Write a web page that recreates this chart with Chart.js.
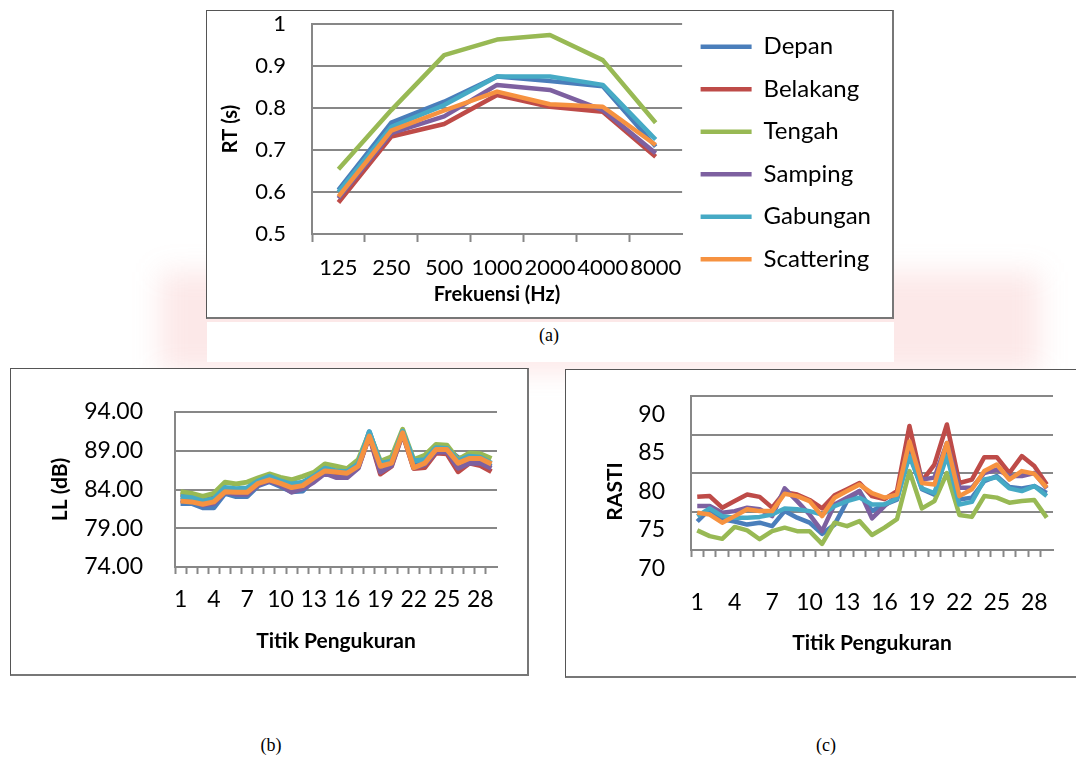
<!DOCTYPE html>
<html>
<head>
<meta charset="utf-8">
<script src="https://cdn.jsdelivr.net/npm/chart.js@4"></script>
<style>
html, body { margin: 0; padding: 0; background: #fff; width: 1076px; height: 758px; overflow: hidden; position: relative; }
.blush { position: absolute; background: rgba(236, 110, 110, 0.16); filter: blur(14px); }
.frame { position: absolute; background: #fff; box-sizing: border-box;
  border-top: 1px solid #555; border-left: 1px solid #555; border-right: 2px solid #777; border-bottom: 2px solid #777; }
.frame canvas { position: absolute; left: 0; top: 0; }
.strip { position: absolute; background: #fff; }
.cap { position: absolute; font-family: 'Liberation Serif', 'Times New Roman', serif; font-size: 18px; color: #000; transform: translate(-50%, -50%); }
</style>
</head>
<body>
<div class="blush" style="left:160px; top:272px; width:880px; height:100px;"></div>
<div class="strip" style="left:207px; top:322px; width:687px; height:40px;"></div>
<div class="frame" style="left:206px; top:10px; width:688px; height:309px;"><canvas id="rtChart" width="685" height="306"></canvas></div>
<div class="frame" style="left:10px; top:368px; width:519px; height:308px;"><canvas id="llChart" width="516" height="305"></canvas></div>
<div class="frame" style="left:565px; top:369px; width:530px; height:309px;"><canvas id="rastiChart" width="510" height="306"></canvas></div>
<div class="cap" style="left:549px; top:335px;">(a)</div>
<div class="cap" style="left:271px; top:745px;">(b)</div>
<div class="cap" style="left:826px; top:745px;">(c)</div>
<script>
// series shared by all three charts
const seriesNames = ['Depan', 'Belakang', 'Tengah', 'Samping', 'Gabungan', 'Scattering'];
const seriesColors = ['#4a7ebb', '#be4b48', '#98b954', '#7d60a0', '#46aac5', '#f69240'];

// (a) reverberation time per octave band
const freqLabels = ['125', '250', '500', '1000', '2000', '4000', '8000'];
const rtDepan = [0.605, 0.765, 0.815, 0.875, 0.864, 0.852, 0.708];
const rtBelakang = [0.575, 0.732, 0.762, 0.831, 0.803, 0.791, 0.684];
const rtTengah = [0.654, 0.795, 0.926, 0.963, 0.974, 0.914, 0.765];
const rtSamping = [0.585, 0.740, 0.780, 0.855, 0.843, 0.795, 0.692];
const rtGabungan = [0.600, 0.755, 0.807, 0.875, 0.875, 0.855, 0.725];
const rtScattering = [0.589, 0.746, 0.794, 0.839, 0.809, 0.803, 0.712];

// measurement points for (b) and (c)
const titik = [1, 2, 3, 4, 5, 6, 7, 8, 9, 10, 11, 12, 13, 14, 15, 16, 17, 18, 19, 20, 21, 22, 23, 24, 25, 26, 27, 28, 29];

// (b) loudness level
const llDepan = [82.2, 82.2, 81.65, 81.65, 83.5, 83.1, 83.1, 84.5, 85.0, 84.4, 83.7, 83.8, 85.25, 86.5, 85.9, 85.8, 87.0, 91.45, 87.2, 87.4, 91.5, 87.0, 87.65, 89.4, 89.3, 88.1, 87.9, 87.65, 87.0];
const llBelakang = [83.4, 83.2, 82.65, 82.95, 83.95, 83.75, 83.75, 84.95, 85.4, 84.95, 84.25, 84.4, 85.4, 86.3, 85.9, 85.8, 86.85, 90.9, 86.0, 87.0, 91.2, 86.7, 86.85, 88.7, 88.6, 86.3, 87.4, 87.1, 86.3];
const llTengah = [83.7, 83.5, 83.1, 83.5, 84.95, 84.7, 84.95, 85.5, 86.0, 85.55, 85.25, 85.7, 86.2, 87.3, 87.0, 86.7, 87.85, 91.3, 87.65, 88.2, 91.75, 87.85, 88.4, 89.8, 89.7, 87.85, 88.7, 88.6, 88.0];
const llSamping = [82.65, 82.5, 82.0, 82.2, 83.65, 83.4, 83.4, 84.6, 85.1, 84.6, 83.65, 84.1, 84.95, 86.1, 85.55, 85.55, 86.75, 91.0, 86.25, 87.1, 91.3, 86.8, 87.2, 88.85, 88.85, 86.75, 87.4, 87.4, 86.75];
const llGabungan = [83.1, 82.95, 82.5, 82.8, 84.25, 84.1, 84.2, 85.1, 85.7, 85.1, 84.7, 84.95, 85.7, 86.75, 86.4, 86.3, 87.3, 91.45, 87.4, 87.65, 91.5, 87.7, 87.85, 89.4, 89.3, 87.7, 88.3, 88.15, 87.4];
const llScattering = [82.5, 82.4, 82.1, 82.4, 83.7, 83.65, 83.65, 84.8, 85.25, 84.8, 84.25, 84.5, 85.5, 86.4, 86.25, 86.1, 87.0, 90.9, 87.0, 87.4, 91.3, 86.8, 87.4, 89.15, 89.15, 87.4, 88.0, 88.0, 87.3];

// (c) RASTI
const rastiDepan = [76.1, 77.7, 76.4, 76.1, 75.7, 75.95, 75.5, 77.45, 76.6, 75.95, 74.5, 75.7, 78.75, 80.05, 77.45, 78.3, 78.95, 85.0, 80.3, 79.6, 85.2, 78.95, 79.2, 81.35, 82.0, 80.6, 80.4, 80.7, 79.8];
const rastiBelakang = [79.3, 79.4, 77.9, 78.75, 79.6, 79.3, 77.9, 79.9, 79.6, 78.9, 77.8, 79.5, 80.3, 81.1, 79.4, 79.0, 80.05, 88.5, 81.35, 83.5, 88.7, 81.1, 81.55, 84.45, 84.45, 82.4, 84.6, 83.3, 80.9];
const rastiTengah = [74.95, 74.2, 73.85, 75.4, 74.95, 73.8, 74.85, 75.3, 74.85, 74.85, 73.2, 75.95, 75.5, 76.15, 74.35, 75.3, 76.4, 82.65, 77.8, 78.75, 82.4, 76.95, 76.7, 79.4, 79.2, 78.55, 78.75, 78.9, 76.6];
const rastiSamping = [78.1, 78.1, 77.25, 77.45, 77.9, 77.7, 76.8, 80.4, 78.75, 77.0, 74.85, 78.3, 79.2, 80.05, 76.5, 78.1, 79.4, 86.3, 81.55, 81.8, 86.3, 80.5, 80.5, 82.4, 82.85, 82.0, 82.0, 82.4, 80.4];
const rastiGabungan = [76.8, 77.8, 76.8, 76.6, 76.6, 76.7, 77.0, 77.8, 77.7, 77.45, 77.0, 78.1, 78.75, 79.2, 78.3, 78.3, 79.1, 84.6, 80.4, 79.8, 84.6, 78.3, 78.65, 81.55, 81.85, 80.4, 80.05, 80.7, 79.4];
const rastiScattering = [77.25, 77.0, 75.95, 76.8, 77.7, 77.45, 77.45, 79.7, 79.4, 78.75, 76.8, 79.2, 80.05, 80.9, 79.8, 79.2, 79.6, 86.5, 81.1, 80.9, 86.3, 79.4, 80.3, 82.65, 83.5, 81.55, 82.65, 82.3, 80.5];
// the RASTI axis labels sit below their gridlines in the original
const rastiTickLabels = ['70', '75', '80', '85', '90'];

Chart.defaults.font.family = 'Lato, sans-serif';
Chart.defaults.color = '#000';
const GRID = '#878787';

/**
 * Build line datasets; later series are drawn on top, like the original
 */
function lineSets(list, width) {
    return list.map((vals, i) => ({
        label: seriesNames[i],
        data: vals,
        borderColor: seriesColors[i],
        backgroundColor: seriesColors[i],
        borderWidth: width,
        pointRadius: 0,
        pointHoverRadius: 0,
        tension: 0,
        borderJoinStyle: 'round',
        order: list.length - i
    }));
}

function categoryAxis(o) {
    const every = o.every || 1;
    return {
        type: 'category',
        offset: true,
        grid: {
            offset: true,
            drawOnChartArea: false,
            tickLength: o.tickLength,
            tickWidth: 2,
            // no tick mark at the far right end
            tickColor: (c) => c.type === 'tick' ? GRID : 'rgba(0,0,0,0)'
        },
        border: { color: GRID, width: 2 },
        ticks: {
            autoSkip: false, maxRotation: 0, minRotation: 0,
            padding: o.pad,
            font: { size: o.fontSize },
            callback: function(value, index) {
                return index % every === 0 ? this.getLabelForValue(value) : '';
            }
        },
        title: {
            display: true, text: o.title,
            font: { size: o.titleSize, weight: 'bold' },
            padding: { top: 0, bottom: o.titlePad }
        },
        afterFit: (s) => { s.height = o.height; s.paddingLeft = 0; s.paddingRight = 0; }
    };
}

function valueAxis(o) {
    const ticks = {
        stepSize: o.step,
        padding: o.pad,
        labelOffset: o.labelOffset || 0,
        font: { size: o.fontSize }
    };
    if (o.cb) ticks.callback = o.cb;
    return {
        min: o.min, max: o.max,
        grid: { color: GRID, lineWidth: 2, drawTicks: false },
        border: { color: GRID, width: 2 },
        ticks: ticks,
        title: {
            display: !!o.title, text: o.title,
            font: { size: o.titleSize, weight: 'bold' },
            padding: { top: o.titlePad, bottom: 0 }
        },
        // fixed width and fixed room above the plot
        afterFit: (s) => { s.width = o.width; s.paddingTop = o.roomTop || 0; s.paddingBottom = 0; }
    };
}

// (a) RT
new Chart(document.getElementById('rtChart'), {
    type: 'line',
    data: {
        labels: freqLabels,
        datasets: lineSets([rtDepan, rtBelakang, rtTengah, rtSamping, rtGabungan, rtScattering], 4.5)
    },
    options: {
        responsive: false,
        animation: false,
        events: [],
        layout: { padding: { top: 0, right: 11, bottom: 22, left: 0 } },
        plugins: {
            tooltip: { enabled: false },
            legend: {
                position: 'right',
                align: 'center',
                maxWidth: 300,
                labels: {
                    usePointStyle: true,
                    pointStyle: 'line',
                    pointStyleWidth: 51,
                    padding: 18.5,
                    font: { size: 24 },
                    color: '#000',
                    sort: (a, b) => a.datasetIndex - b.datasetIndex
                }
            }
        },
        scales: {
            x: categoryAxis({ tickLength: 8, pad: 13, fontSize: 22, title: 'Frekuensi (Hz)', titleSize: 20, titlePad: -12, height: 61 }),
            y: valueAxis({ min: 0.5, max: 1, step: 0.1, pad: 26, fontSize: 22, cb: (v) => String(Math.round(v * 10) / 10),
                title: 'RT (s)', titleSize: 20, titlePad: 11.7, width: 105, roomTop: 13 })
        }
    }
});

// (b) LL
new Chart(document.getElementById('llChart'), {
    type: 'line',
    data: {
        labels: titik,
        datasets: lineSets([llDepan, llBelakang, llTengah, llSamping, llGabungan, llScattering], 5)
    },
    options: {
        responsive: false,
        animation: false,
        events: [],
        layout: { padding: { top: 43, right: 30, bottom: 0, left: 0 } },
        plugins: { legend: { display: false }, tooltip: { enabled: false } },
        scales: {
            x: categoryAxis({ tickLength: 7, pad: 12, fontSize: 23, every: 3, title: 'Titik Pengukuran', titleSize: 21, titlePad: 20.4, height: 107 }),
            y: valueAxis({ min: 74, max: 94, step: 5, pad: 32, fontSize: 23, cb: (v) => v.toFixed(2), title: 'LL (dB)', titleSize: 21, titlePad: 36.4, width: 164 })
        }
    }
});

// RASTI axis title follows the (shifted) tick labels, centred on the middle label
const rastiTitle = {
    id: 'rastiTitle',
    afterDraw(chart) {
        const ctx = chart.ctx;
        const y = chart.scales.y.getPixelForValue(Number(rastiTickLabels[2]));
        ctx.save();
        ctx.translate(49, y);
        ctx.rotate(-Math.PI / 2);
        ctx.font = 'bold 21px Lato, sans-serif';
        ctx.fillStyle = '#000';
        ctx.textAlign = 'center';
        ctx.textBaseline = 'middle';
        ctx.fillText('RASTI', 0, 0);
        ctx.restore();
    }
};

// (c) RASTI
new Chart(document.getElementById('rastiChart'), {
    type: 'line',
    data: {
        labels: titik,
        datasets: lineSets([rastiDepan, rastiBelakang, rastiTengah, rastiSamping, rastiGabungan, rastiScattering], 4.5)
    },
    options: {
        responsive: false,
        animation: false,
        events: [],
        layout: { padding: { top: 26, right: 23, bottom: 0, left: 0 } },
        plugins: { legend: { display: false }, tooltip: { enabled: false } },
        scales: {
            x: categoryAxis({ tickLength: 7, pad: 32, fontSize: 23, every: 3, title: 'Titik Pengukuran', titleSize: 21, titlePad: 20.4, height: 126 }),
            y: valueAxis({ min: 72.4, max: 92.4, step: 5, pad: 26, fontSize: 23, labelOffset: 18.5, cb: (v, i) => rastiTickLabels[i], width: 125 })
        }
    },
    plugins: [rastiTitle]
});
</script>
</body>
</html>
